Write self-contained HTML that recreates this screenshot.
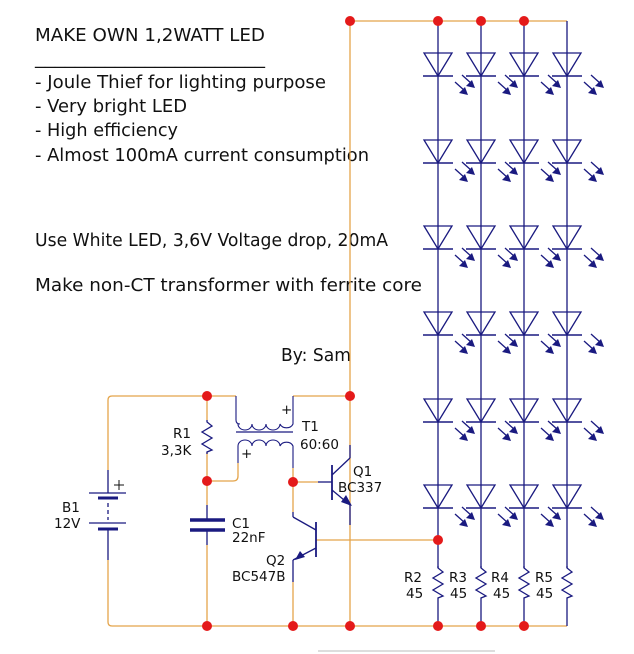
<!DOCTYPE html>
<html><head><meta charset="utf-8"><style>
html,body{margin:0;padding:0;background:#fff;width:634px;height:654px;overflow:hidden}
svg{display:block}
text{font-family:"DejaVu Sans","Liberation Sans",sans-serif;fill:#111}
</style></head><body>
<svg width="634" height="654" viewBox="0 0 634 654" xmlns="http://www.w3.org/2000/svg">
<defs>
<g id="led">
  <polygon points="-14,0 14,0 0,23" fill="none" stroke="#1a1a80" stroke-width="1.3"/>
  <line x1="-15" y1="23" x2="15" y2="23" stroke="#1a1a80" stroke-width="1.6"/>
  <line x1="24" y1="22" x2="34" y2="31" stroke="#1a1a80" stroke-width="1.3"/>
  <polygon points="37,35 28,33 34,27" fill="#1a1a80"/>
  <line x1="17" y1="29" x2="27" y2="38" stroke="#1a1a80" stroke-width="1.3"/>
  <polygon points="30,42 21,40 27,34" fill="#1a1a80"/>
</g>
<g id="res">
  <polyline points="0,0 0,2 5,6 -5,12 5,18 -5,24 5,30 0,32 0,34" fill="none" stroke="#1a1a80" stroke-width="1.3"/>
</g>
</defs>

<!-- texts -->
<g font-size="18">
<text x="35" y="41" textLength="230" lengthAdjust="spacingAndGlyphs">MAKE OWN 1,2WATT LED</text>
<text x="35" y="64" textLength="230" lengthAdjust="spacingAndGlyphs">_______________________</text>
<text x="35" y="88" textLength="291" lengthAdjust="spacingAndGlyphs">- Joule Thief for lighting purpose</text>
<text x="35" y="112" textLength="152" lengthAdjust="spacingAndGlyphs">- Very bright LED</text>
<text x="35" y="136" textLength="143" lengthAdjust="spacingAndGlyphs">- High efficiency</text>
<text x="35" y="161" textLength="334" lengthAdjust="spacingAndGlyphs">- Almost 100mA current consumption</text>
<text x="35" y="246" textLength="353" lengthAdjust="spacingAndGlyphs">Use White LED, 3,6V Voltage drop, 20mA</text>
<text x="35" y="291" textLength="387" lengthAdjust="spacingAndGlyphs">Make non-CT transformer with ferrite core</text>
<text x="281" y="361" textLength="70" lengthAdjust="spacingAndGlyphs">By: Sam</text>
</g>

<!-- orange wires -->
<g fill="none" stroke="#e4a44a" stroke-width="1.3">
<path d="M350,626 V25 Q350,21 354,21 H567"/>
<path d="M108,470 V400 Q108,396 112,396 H236"/>
<path d="M293,396 H350"/>
<path d="M108,560 V622 Q108,626 112,626 H567"/>
<line x1="207" y1="396" x2="207" y2="420"/>
<line x1="207" y1="452" x2="207" y2="505"/>
<line x1="207" y1="545" x2="207" y2="626"/>
<path d="M207,481 H233 Q238,481 238,476 V463"/>
<line x1="293" y1="468" x2="293" y2="512"/>
<line x1="293" y1="482" x2="318" y2="482"/>
<line x1="293" y1="582" x2="293" y2="626"/>
<line x1="316" y1="540" x2="438" y2="540"/>
</g>

<g fill="none" stroke="#1a1a80" stroke-width="1.3">
<line x1="108" y1="470" x2="108" y2="493"/>
<line x1="89" y1="493" x2="126" y2="493"/>
<line x1="98" y1="498" x2="118" y2="498" stroke-width="3"/>
<line x1="108" y1="503" x2="108" y2="520" stroke-dasharray="4,3"/>
<line x1="89" y1="523" x2="126" y2="523"/>
<line x1="98" y1="529" x2="118" y2="529" stroke-width="3"/>
<line x1="108" y1="529" x2="108" y2="560"/>
<line x1="114" y1="485" x2="124" y2="485" stroke="#111" stroke-width="1"/>
<line x1="119" y1="480" x2="119" y2="490" stroke="#111" stroke-width="1"/>
<use href="#res" x="207" y="420"/>
<line x1="207" y1="505" x2="207" y2="519"/>
<line x1="190" y1="520" x2="225" y2="520" stroke-width="3.5"/>
<line x1="190" y1="530" x2="225" y2="530" stroke-width="3.5"/>
<line x1="207" y1="531" x2="207" y2="545"/>
<path d="M236,396 V420 Q236,424 240,424 M238,424 a7,6 0 0 0 14,0 a7,6 0 0 0 14,0 a7,6 0 0 0 14,0 a7,6 0 0 0 13,0 V396" stroke-width="1.1"/>
<line x1="236" y1="432" x2="293" y2="432" stroke-width="1.3"/>
<path d="M238,463 V446 a7,6 0 0 1 14,0 a7,6 0 0 1 14,0 a7,6 0 0 1 14,0 a7,6 0 0 1 13,0 V468" stroke-width="1.1"/>
<line x1="318" y1="482" x2="332" y2="482"/>
<line x1="332" y1="465" x2="332" y2="500" stroke-width="1.8"/>
<line x1="332" y1="475" x2="350" y2="458"/>
<line x1="350" y1="458" x2="350" y2="445"/>
<line x1="332" y1="490" x2="350" y2="505"/>
<line x1="350" y1="505" x2="350" y2="525"/>
<line x1="316" y1="522" x2="316" y2="557" stroke-width="1.8"/>
<line x1="316" y1="530" x2="293" y2="517"/>
<line x1="293" y1="517" x2="293" y2="512"/>
<line x1="316" y1="548" x2="293" y2="560"/>
<line x1="293" y1="560" x2="293" y2="582"/>
<line x1="438" y1="21" x2="438" y2="568"/>
<line x1="481" y1="21" x2="481" y2="568"/>
<line x1="524" y1="21" x2="524" y2="568"/>
<line x1="567" y1="21" x2="567" y2="568"/>
<line x1="438" y1="600" x2="438" y2="626"/>
<line x1="481" y1="600" x2="481" y2="626"/>
<line x1="524" y1="600" x2="524" y2="626"/>
<line x1="567" y1="600" x2="567" y2="626"/>
</g>
<polygon points="352,506 341,502 346,495" fill="#1a1a80"/>
<polygon points="295,560 300,551 305,557" fill="#1a1a80"/>

<g>
<use href="#led" x="438" y="53"/><use href="#led" x="481" y="53"/><use href="#led" x="524" y="53"/><use href="#led" x="567" y="53"/>
<use href="#led" x="438" y="140"/><use href="#led" x="481" y="140"/><use href="#led" x="524" y="140"/><use href="#led" x="567" y="140"/>
<use href="#led" x="438" y="226"/><use href="#led" x="481" y="226"/><use href="#led" x="524" y="226"/><use href="#led" x="567" y="226"/>
<use href="#led" x="438" y="312"/><use href="#led" x="481" y="312"/><use href="#led" x="524" y="312"/><use href="#led" x="567" y="312"/>
<use href="#led" x="438" y="399"/><use href="#led" x="481" y="399"/><use href="#led" x="524" y="399"/><use href="#led" x="567" y="399"/>
<use href="#led" x="438" y="485"/><use href="#led" x="481" y="485"/><use href="#led" x="524" y="485"/><use href="#led" x="567" y="485"/>
</g>
<use href="#res" x="438" y="566"/><use href="#res" x="481" y="566"/><use href="#res" x="524" y="566"/><use href="#res" x="567" y="566"/>

<g font-size="13.5">
<text x="173" y="438">R1</text><text x="161" y="455">3,3K</text>
<text x="302" y="431">T1</text><text x="300" y="449">60:60</text>
<text x="281" y="414">+</text><text x="241" y="458">+</text>
<text x="353" y="476">Q1</text><text x="338" y="492">BC337</text>
<text x="232" y="528">C1</text><text x="232" y="542">22nF</text>
<text x="266" y="565">Q2</text><text x="232" y="581">BC547B</text>
<text x="62" y="512">B1</text><text x="54" y="528">12V</text>
<text x="404" y="582">R2</text><text x="406" y="598">45</text>
<text x="449" y="582">R3</text><text x="450" y="598">45</text>
<text x="491" y="582">R4</text><text x="493" y="598">45</text>
<text x="535" y="582">R5</text><text x="536" y="598">45</text>
</g>

<g fill="#e41a1a">
<circle cx="350" cy="21" r="5"/><circle cx="438" cy="21" r="5"/><circle cx="481" cy="21" r="5"/><circle cx="524" cy="21" r="5"/>
<circle cx="207" cy="396" r="5"/><circle cx="350" cy="396" r="5"/>
<circle cx="207" cy="481" r="5"/><circle cx="293" cy="482" r="5"/>
<circle cx="438" cy="540" r="5"/>
<circle cx="207" cy="626" r="5"/><circle cx="293" cy="626" r="5"/><circle cx="350" cy="626" r="5"/>
<circle cx="438" cy="626" r="5"/><circle cx="481" cy="626" r="5"/><circle cx="524" cy="626" r="5"/>
</g>
<line x1="318" y1="651" x2="495" y2="651" stroke="#bbb" stroke-width="1"/>
</svg>
</body></html>
